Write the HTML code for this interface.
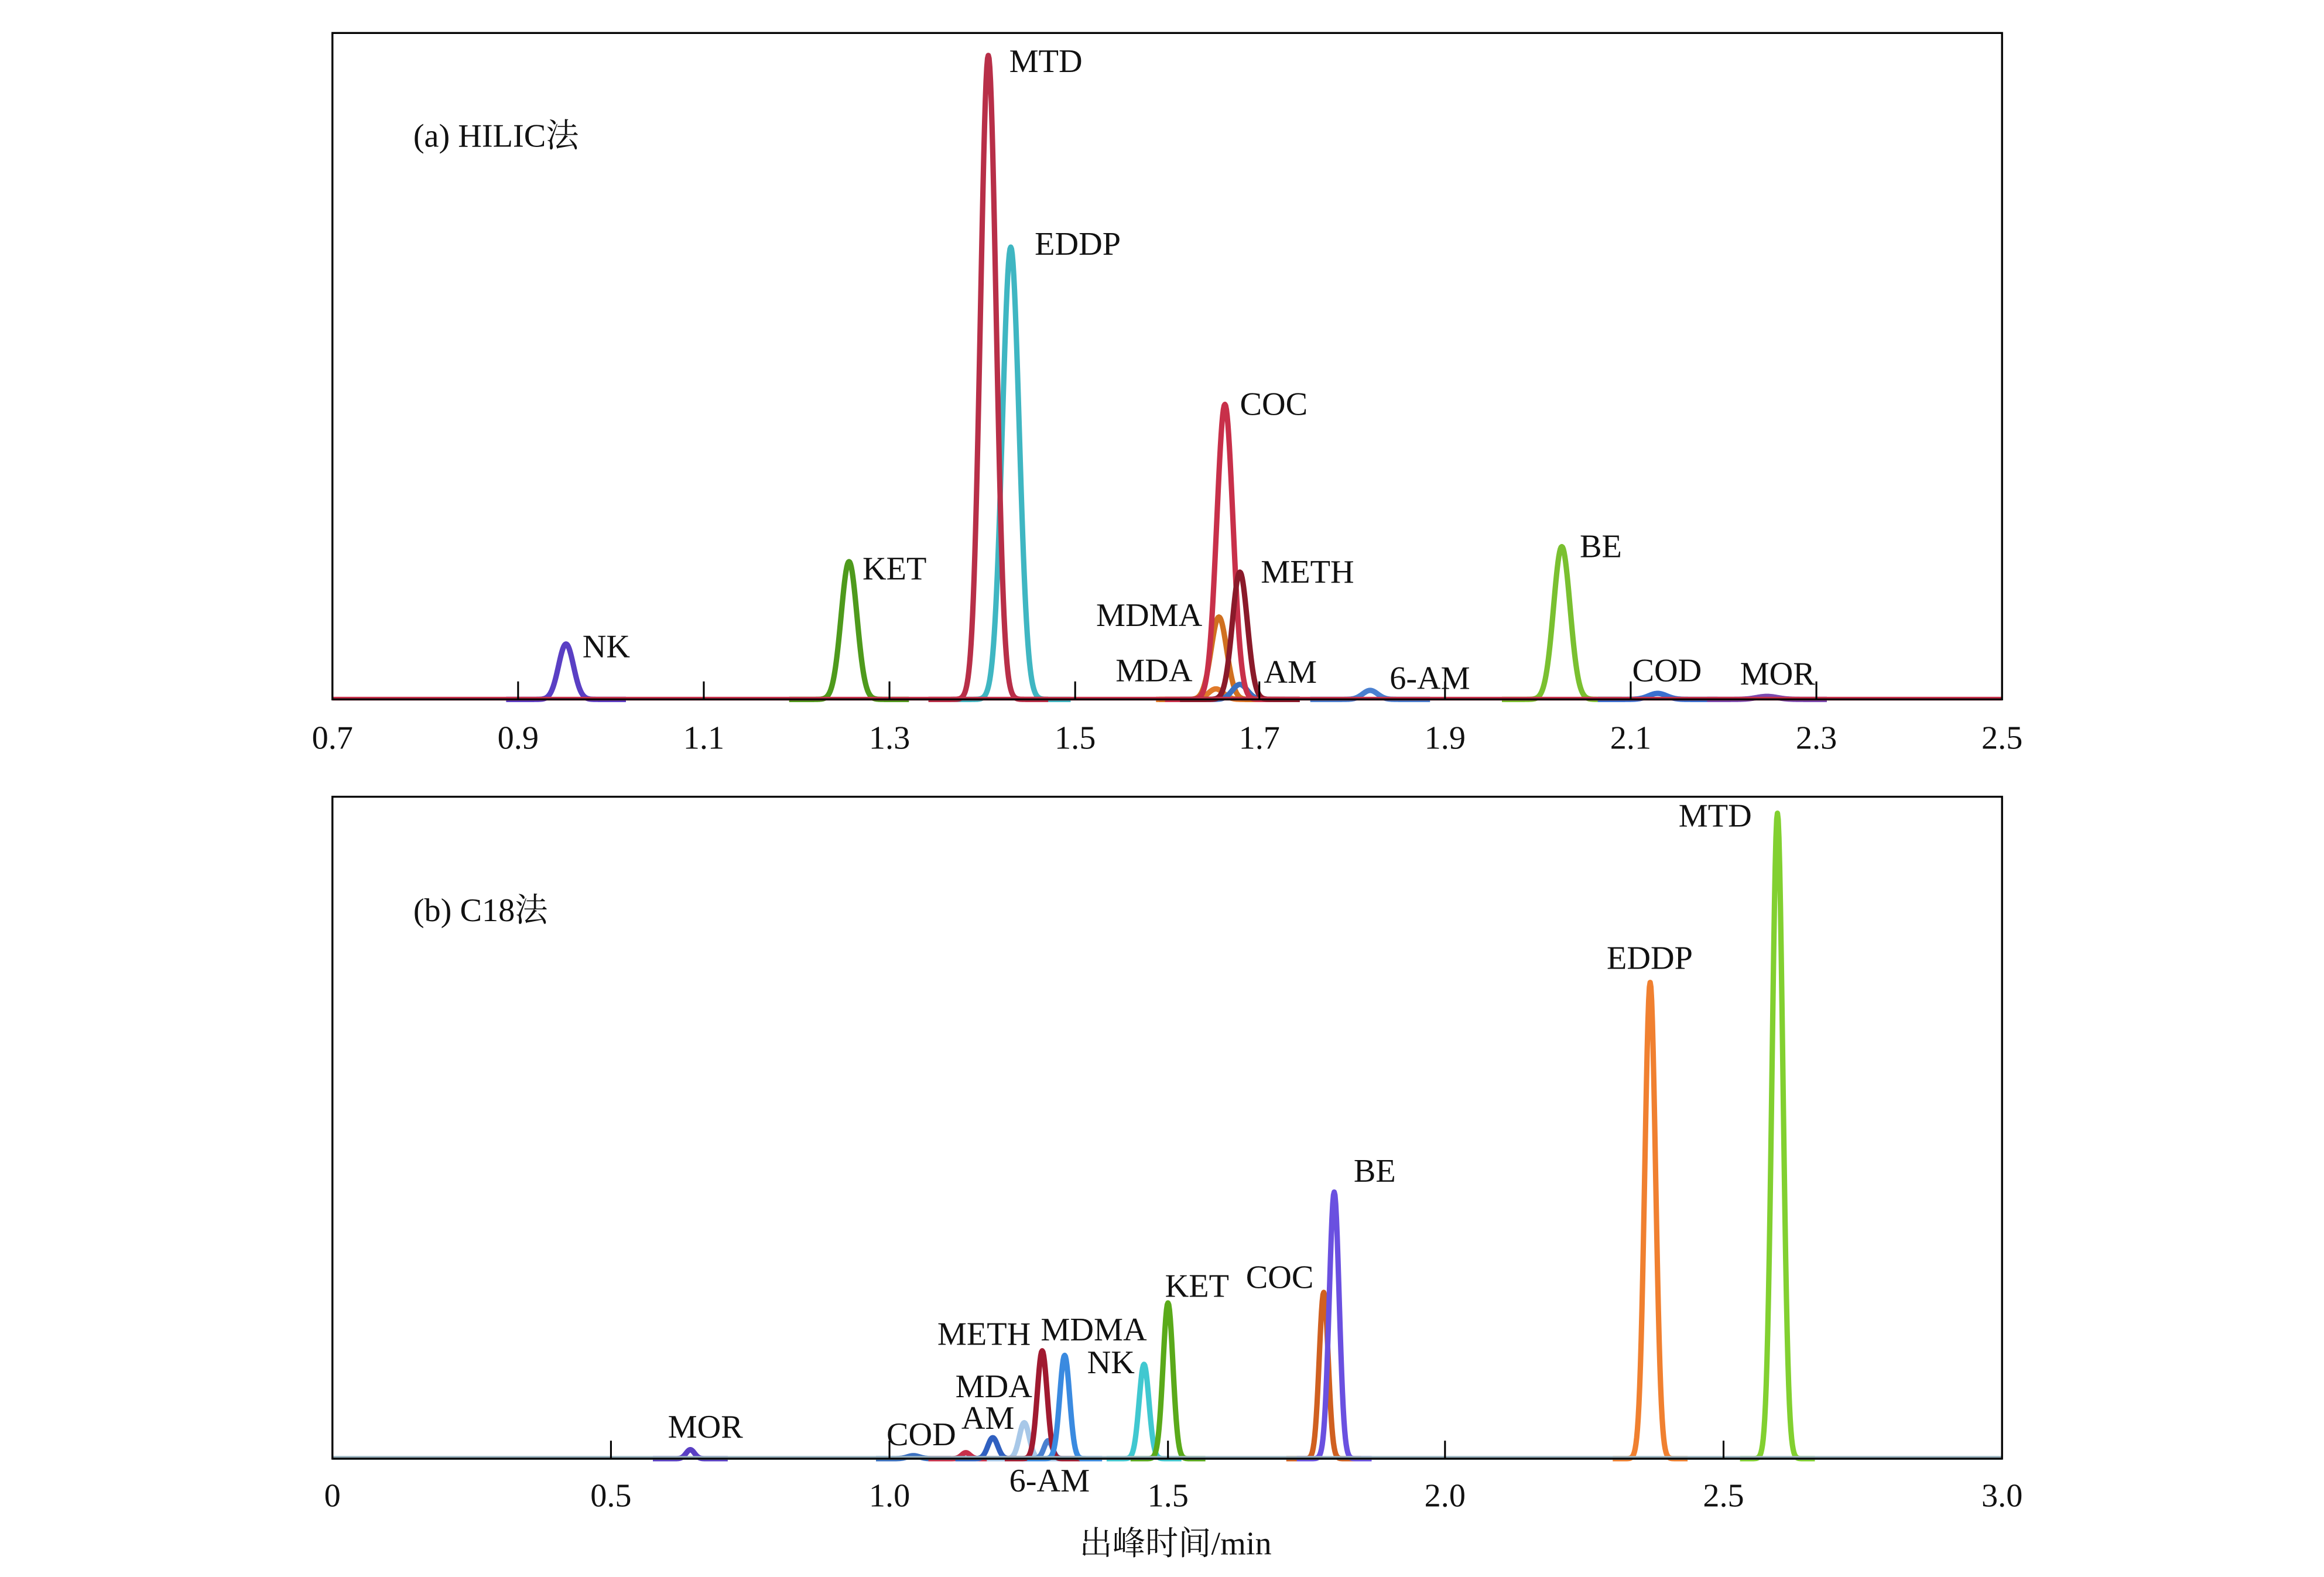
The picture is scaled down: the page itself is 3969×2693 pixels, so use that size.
<!DOCTYPE html>
<html><head><meta charset="utf-8">
<style>
html,body{margin:0;padding:0;background:#fff;}
svg{display:block;}
text{font-family:"Liberation Serif","Noto Serif CJK SC","Noto Sans CJK SC",serif;font-size:22px;fill:#111;}
</style></head><body>
<svg id="s" width="3969" height="2693" viewBox="0 0 1552 1053" xmlns="http://www.w3.org/2000/svg">
<rect x="0" y="0" width="1552" height="1053" fill="#fff"/>
<g id="pa"></g>
<g id="pb"></g>
<rect x="222" y="22" width="1115" height="445" fill="none" stroke="#000" stroke-width="1.3"/>
<rect x="222" y="532" width="1115" height="442" fill="none" stroke="#000" stroke-width="1.3"/>
<g id="ticks" stroke="#000" stroke-width="1.2"></g>
<text x="276" y="98">(a) HILIC法</text>
<text x="276" y="615">(b) C18法</text>
<g text-anchor="middle">
<text x="222" y="500">0.7</text><text x="346" y="500">0.9</text><text x="470" y="500">1.1</text>
<text x="594" y="500">1.3</text><text x="718" y="500">1.5</text><text x="841" y="500">1.7</text>
<text x="965" y="500">1.9</text><text x="1089" y="500">2.1</text><text x="1213" y="500">2.3</text>
<text x="1337" y="500">2.5</text>
<text x="222" y="1006">0</text><text x="408" y="1006">0.5</text><text x="594" y="1006">1.0</text>
<text x="780" y="1006">1.5</text><text x="965" y="1006">2.0</text><text x="1151" y="1006">2.5</text>
<text x="1337" y="1006">3.0</text>
<text x="785" y="1038">出峰时间/min</text>
</g>
<text x="674" y="48">MTD</text>
<text x="691" y="170">EDDP</text>
<text x="828" y="277">COC</text>
<text x="842" y="389">METH</text>
<text x="732" y="418">MDMA</text>
<text x="745" y="455">MDA</text>
<text x="844" y="456">AM</text>
<text x="928" y="460">6-AM</text>
<text x="1055" y="372">BE</text>
<text x="1090" y="455">COD</text>
<text x="1162" y="457">MOR</text>
<text x="576" y="387">KET</text>
<text x="389" y="439">NK</text>
<text x="1121" y="552">MTD</text>
<text x="1073" y="647">EDDP</text>
<text x="904" y="789">BE</text>
<text x="832" y="860">COC</text>
<text x="778" y="866">KET</text>
<text x="626" y="898">METH</text>
<text x="695" y="895">MDMA</text>
<text x="726" y="917">NK</text>
<text x="638" y="933">MDA</text>
<text x="642" y="954">AM</text>
<text x="592" y="965">COD</text>
<text x="674" y="996">6-AM</text>
<text x="446" y="960">MOR</text>
</svg>
<script>
var NS="http://www.w3.org/2000/svg";
function peak(g,x0,top,base,sig,col,x1,x2){
  var h=base-top,d="M"+x1+","+base;
  for(var x=x1;x<=x2;x+=0.5){var y=base-h*Math.exp(-Math.pow(x-x0,2)/(2*sig*sig));d+=" L"+x.toFixed(1)+","+y.toFixed(2);}
  var p=document.createElementNS(NS,"path");p.setAttribute("d",d);p.setAttribute("fill","none");
  p.setAttribute("stroke",col);p.setAttribute("stroke-width","3.6");p.setAttribute("stroke-linejoin","round");g.appendChild(p);
}
var ga=document.getElementById("pa"),gb=document.getElementById("pb");
var A=[[378,430,5,"#5a3fc4"],[567,375,5.3,"#4e9a1c"],[675,165,5.6,"#3fb6c2"],[660,37,5.2,"#b82f48"],
[812,460,5,"#e07a2a"],[814,412,5.2,"#d07020"],[828,457,5,"#3a70c0"],[818,270,5.4,"#c8304a"],[828,382,5,"#8a1a2a"],
[915,461,5,"#4a80d0"],[1043,365,5.5,"#7ac030"],[1107,463,6,"#3a70d0"],[1180,465,7,"#7a4ab0"]];
A.forEach(function(a){peak(ga,a[0],a[1],467,a[2],a[3],a[0]-40,a[0]+40);});
var l=document.createElementNS(NS,"line");l.setAttribute("x1",222);l.setAttribute("x2",1337);l.setAttribute("y1",466.5);l.setAttribute("y2",466.5);l.setAttribute("stroke","#c8304a");l.setAttribute("stroke-width","2.5");ga.appendChild(l);
var B=[[461,968,2.8,"#5a3fc4"],[610,972,4,"#3a70c0"],[645,970,2.8,"#c8304a"],[663,960,3.3,"#3060c0"],[684,950,3.3,"#a8c8e8"],[700,962,2.8,"#4a80d0"],
[696,902,3.3,"#a01a30"],[711,905,3.3,"#3a8ae0"],[764,911,3.3,"#40c8d0"],[780,870,3.3,"#5aaa1a"],[884,863,3,"#d06020"],[891,796,3.3,"#6a50e0"],
[1102,656,3.6,"#f08030"],[1187,543,3.6,"#82d030"]];
B.forEach(function(a){peak(gb,a[0],a[1],974,a[2],a[3],a[0]-25,a[0]+25);});
var l2=document.createElementNS(NS,"line");l2.setAttribute("x1",222);l2.setAttribute("x2",1337);l2.setAttribute("y1",973.5);l2.setAttribute("y2",973.5);l2.setAttribute("stroke","#9ab4c0");l2.setAttribute("stroke-width","2.5");gb.appendChild(l2);
var t=document.getElementById("ticks");
[346,470,594,718,841,965,1089,1213].forEach(function(x){var e=document.createElementNS(NS,"line");e.setAttribute("x1",x);e.setAttribute("x2",x);e.setAttribute("y1",455);e.setAttribute("y2",467);t.appendChild(e);});
[408,594,780,965,1151].forEach(function(x){var e=document.createElementNS(NS,"line");e.setAttribute("x1",x);e.setAttribute("x2",x);e.setAttribute("y1",962);e.setAttribute("y2",974);t.appendChild(e);});
</script>
</body></html>
